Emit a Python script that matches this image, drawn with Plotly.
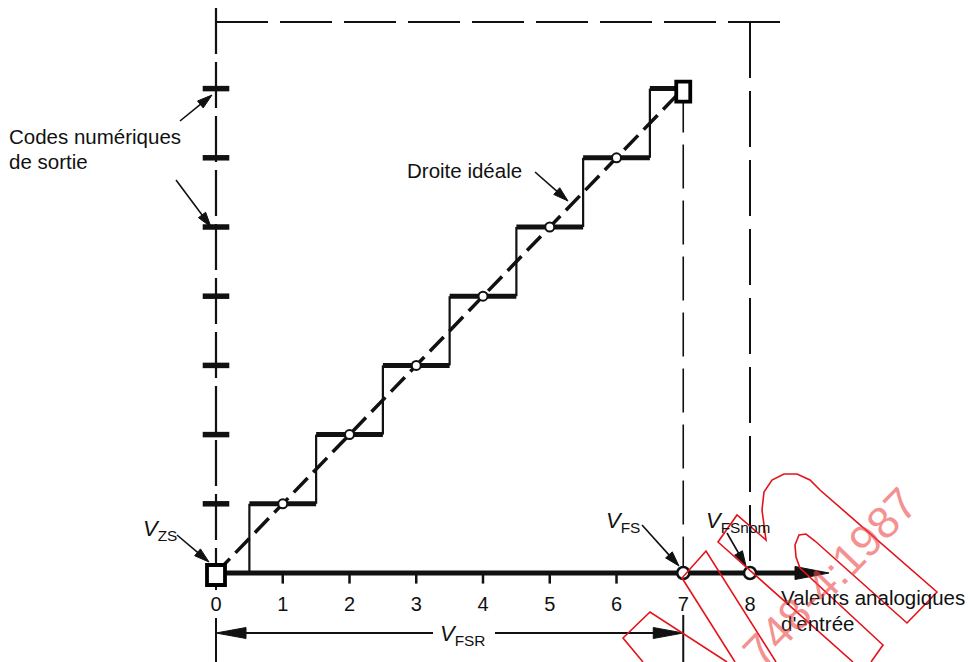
import math
import plotly.graph_objects as go

# Transfer characteristic of a 3-bit A/D converter
codes = [1, 2, 3, 4, 5, 6, 7]                       # output code levels
transitions = [0.5, 1.5, 2.5, 3.5, 4.5, 5.5, 6.5]   # code transition inputs
centres = [1, 2, 3, 4, 5, 6]                        # code centre points
tick_values = [0, 1, 2, 3, 4, 5, 6, 7, 8]
tick_labels = ["0", "1", "2", "3", "4", "5", "6", "7", "8"]
minor_ticks = [1, 2, 3, 4, 5, 6]
v_zs = 0          # zero-scale point
v_fs = 7          # full-scale point
v_fs_nom = 8      # nominal full-scale point
code_fs = 7       # full-scale code

W, H = 974, 662
SX, SY = 66.75, 69.2      # pixels per input unit / per code
OX, OY = 216, 573         # pixel position of the origin

INK = "#111111"
FONT = "Liberation Sans, Arial, Helvetica, sans-serif"
TXT = 20.5


def to_px(x, y):
    return OX + x * SX, OY - y * SY


def to_data(px, py):
    return (px - OX) / SX, (OY - py) / SY


def dyp(px):
    return px / SY


fig = go.Figure()


def seg(xs, ys, width, dash="solid", color=INK):
    fig.add_trace(go.Scatter(x=xs, y=ys, mode="lines",
                             line=dict(color=color, width=width, dash=dash),
                             hoverinfo="skip", showlegend=False))


def arrow(tail, tip, width=1.6, head_len=15, head_half=4.5):
    """Straight arrow in data coordinates, head sized in pixels."""
    tx, ty = to_px(*tail)
    hx, hy = to_px(*tip)
    L = math.hypot(hx - tx, hy - ty)
    ux, uy = (hx - tx) / L, (hy - ty) / L
    bx, by = hx - ux * head_len, hy - uy * head_len
    e = to_data(bx + ux * 2, by + uy * 2)
    seg([tail[0], e[0]], [tail[1], e[1]], width)
    pts = [(hx, hy),
           (bx - uy * head_half, by + ux * head_half),
           (bx + uy * head_half, by - ux * head_half),
           (hx, hy)]
    d = [to_data(*p) for p in pts]
    fig.add_trace(go.Scatter(x=[p[0] for p in d], y=[p[1] for p in d],
                             mode="lines", fill="toself", fillcolor=INK,
                             line=dict(color=INK, width=1),
                             hoverinfo="skip", showlegend=False))


y_top_page = to_data(0, 8)[1]
y_bottom = to_data(0, 662)[1]
frame_top = to_data(0, 22)[1]

# frame: input origin line, top line, nominal full-scale line
seg([v_zs, v_zs], [y_top_page, 0], 2.2, "46px,8px")
seg([v_zs, to_data(786, 0)[0]], [frame_top, frame_top], 2.0, "52px,12px")
seg([v_fs_nom, v_fs_nom], [frame_top, 0], 2.0, "56px,13px")
seg([v_fs, v_fs], [code_fs, 0], 1.6, "44px,12px")

# stubs below the axis
seg([v_zs, v_zs], [0, to_data(0, 590)[1]], 2.0)
seg([v_zs, v_zs], [to_data(0, 618)[1], y_bottom], 2.0)
seg([v_fs, v_fs], [to_data(0, 615)[1], y_bottom], 2.0)

# staircase: thick treads, thin risers
hx, hy = [], []
for i, k in enumerate(codes):
    x1 = transitions[i + 1] if i + 1 < len(transitions) else v_fs
    hx += [transitions[i], x1, None]
    hy += [k, k, None]
seg(hx, hy, 5)
vx, vy = [], []
for i, t in enumerate(transitions):
    vx += [t, t, None]
    vy += [codes[i] - 1, codes[i], None]
seg(vx, vy, 2.2)

# ideal straight line
seg([v_zs, v_fs], [0, code_fs], 3.5, "20px,8px")

# input axis with arrow
arrow((v_zs, 0), to_data(829, 573), width=5, head_len=34, head_half=6.5)

# minor ticks below the axis
fig.add_trace(go.Scatter(x=minor_ticks, y=[-dyp(5)] * len(minor_ticks), mode="markers",
                         marker=dict(symbol="line-ns", size=8,
                                     line=dict(color=INK, width=2.5)),
                         hoverinfo="skip", showlegend=False))

# output code marks on the origin line
fig.add_trace(go.Scatter(x=[v_zs] * len(codes), y=codes, mode="markers",
                         marker=dict(symbol="line-ew", size=19,
                                     line=dict(color=INK, width=5.5)),
                         hoverinfo="skip", showlegend=False))

# code centre points
fig.add_trace(go.Scatter(x=centres, y=centres, mode="markers",
                         marker=dict(symbol="circle", size=9, color="white",
                                     line=dict(color=INK, width=2)),
                         hoverinfo="skip", showlegend=False))

# full-scale points on the axis
fig.add_trace(go.Scatter(x=[v_fs, v_fs_nom], y=[0, 0], mode="markers",
                         marker=dict(symbol="circle", size=12, color="white",
                                     line=dict(color=INK, width=2.5)),
                         hoverinfo="skip", showlegend=False))

# tick labels
fig.add_trace(go.Scatter(x=tick_values, y=[to_data(0, 606)[1]] * len(tick_values),
                         mode="text", text=tick_labels,
                         textfont=dict(family=FONT, size=20, color=INK),
                         hoverinfo="skip", showlegend=False))

# full-scale range dimension
y_dim = to_data(0, 633)[1]
arrow((to_data(433, 0)[0], y_dim), (v_zs, y_dim), width=2, head_len=30, head_half=5.5)
arrow((to_data(495, 0)[0], y_dim), (v_fs, y_dim), width=2, head_len=30, head_half=5.5)

# leader arrows
arrow(to_data(180, 121), to_data(212, 95))
arrow(to_data(176, 180), to_data(211, 227))
arrow(to_data(535, 172), to_data(568, 201))
arrow(to_data(177, 535), to_data(209, 562))
arrow(to_data(642, 525), to_data(679, 566))
arrow(to_data(727, 533), to_data(746, 566))

annotations = []


def label(text, px, py, size=TXT, anchor="left"):
    x, y = to_data(px, py)
    annotations.append(dict(x=x, y=y, xref="x", yref="y", text=text, showarrow=False,
                            xanchor=anchor, yanchor="middle",
                            font=dict(family=FONT, size=size, color=INK)))


label("Codes numériques", 7, 136)
label("de sortie", 7, 161)
label("Droite idéale", 405, 170)
label("<i>V</i><sub>ZS</sub>", 141, 530, size=22)
label("<i>V</i><sub>FS</sub>", 604, 522, size=22)
label("<i>V</i><sub>FSnom</sub>", 704, 522, size=22)
label("<i>V</i><sub>FSR</sub>", 438, 635, size=22)
label("Valeurs analogiques", 779, 597)
label("d'entrée", 779, 623)

# red reference stamp
annotations.append(dict(x=830 / W, y=1 - 577 / H, xref="paper", yref="paper",
                        xanchor="center", yanchor="middle",
                        text="748-4:1987", showarrow=False, textangle=-46,
                        font=dict(family=FONT, size=45, color="rgba(238,70,70,0.6)")))


def ppath(points):
    return "M " + " L ".join(f"{px / W:.5f},{1 - py / H:.5f}" for px, py in points)


shapes = []

# zero-scale and full-scale end points (pixel-sized boxes anchored on data)
for (cx, cy, half_w, half_h, off) in [(v_zs, 0, 9, 10, 2), (v_fs, code_fs, 7, 10, 3)]:
    shapes.append(dict(type="rect", xref="x", yref="y",
                       xsizemode="pixel", ysizemode="pixel",
                       xanchor=cx, yanchor=cy,
                       x0=-half_w, x1=half_w, y0=-half_h - off, y1=half_h - off,
                       fillcolor="white", line=dict(color="black", width=3.8),
                       layer="above"))

stamp_outlines = [
    [(643, 662), (623, 638), (650, 612), (727, 662)],
    [(735, 662), (682, 578), (706, 551), (776, 662)],
    [(853, 662), (718, 542), (737, 515), (766, 540), (762, 510), (764, 492), (772, 480),
     (784, 474), (797, 474), (810, 480), (820, 490), (937, 592), (907, 623), (815, 541),
     (806, 534), (799, 535), (795, 545), (796, 557), (800, 568), (883, 645), (871, 662)],
]
shapes += [dict(type="path", xref="paper", yref="paper", path=ppath(pts),
                line=dict(color="#e3121b", width=1.6)) for pts in stamp_outlines]

fig.update_layout(
    width=W, height=H,
    margin=dict(l=0, r=0, t=0, b=0),
    paper_bgcolor="white", plot_bgcolor="white",
    xaxis=dict(range=[-OX / SX, (W - OX) / SX], visible=False, fixedrange=True),
    yaxis=dict(range=[-(H - OY) / SY, OY / SY], visible=False, fixedrange=True),
    showlegend=False,
    annotations=annotations,
    shapes=shapes,
)

fig.write_html("out.html")
